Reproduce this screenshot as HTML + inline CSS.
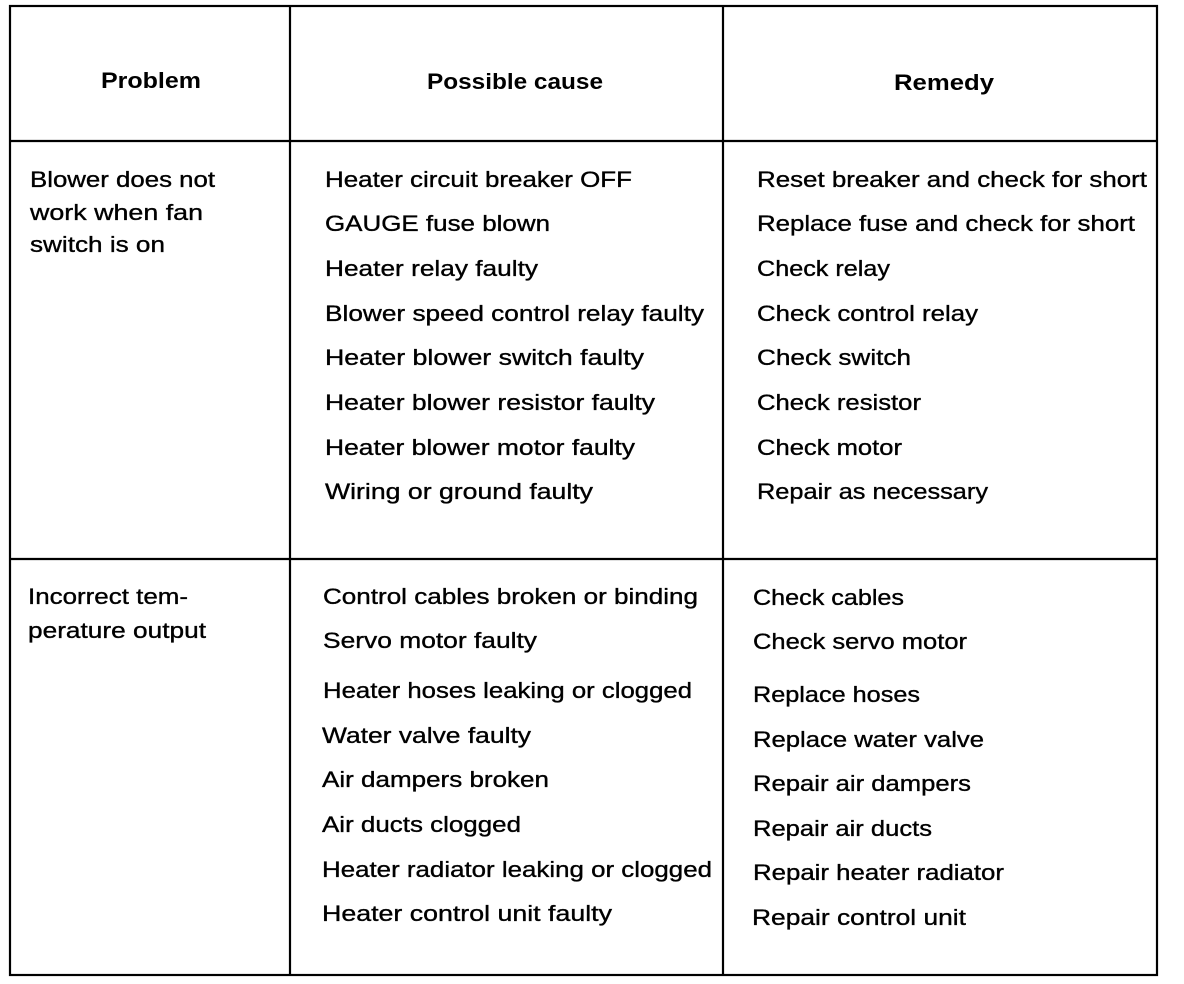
<!DOCTYPE html>
<html><head><meta charset="utf-8"><style>html,body{margin:0;padding:0;background:#fff}svg{display:block}</style></head><body>
<svg width="1184" height="984" xmlns="http://www.w3.org/2000/svg" font-family="Liberation Sans, sans-serif" font-size="22" fill="#000">
<g stroke="#000" stroke-width="2.2" fill="none">
<rect x="10" y="6" width="1147" height="969"/>
<line x1="290" y1="6" x2="290" y2="975"/>
<line x1="723" y1="6" x2="723" y2="975"/>
<line x1="10" y1="141" x2="1157" y2="141"/>
<line x1="10" y1="559" x2="1157" y2="559"/>
</g>
<g font-weight="bold">
<text x="101" y="88" textLength="100" lengthAdjust="spacingAndGlyphs">Problem</text>
<text x="427" y="89" textLength="176" lengthAdjust="spacingAndGlyphs">Possible cause</text>
<text x="894" y="90" textLength="100" lengthAdjust="spacingAndGlyphs">Remedy</text>
</g>
<g stroke="#000" stroke-width="0.35">
<text x="30" y="187" textLength="185" lengthAdjust="spacingAndGlyphs">Blower does not</text>
<text x="30" y="220" textLength="173" lengthAdjust="spacingAndGlyphs">work when fan</text>
<text x="30" y="252" textLength="135" lengthAdjust="spacingAndGlyphs">switch is on</text>
<text x="28" y="604" textLength="160" lengthAdjust="spacingAndGlyphs">Incorrect tem-</text>
<text x="28" y="638" textLength="178" lengthAdjust="spacingAndGlyphs">perature output</text>

<text x="325" y="187" textLength="307" lengthAdjust="spacingAndGlyphs">Heater circuit breaker OFF</text>
<text x="325" y="231" textLength="225" lengthAdjust="spacingAndGlyphs">GAUGE fuse blown</text>
<text x="325" y="276" textLength="213" lengthAdjust="spacingAndGlyphs">Heater relay faulty</text>
<text x="325" y="321" textLength="379" lengthAdjust="spacingAndGlyphs">Blower speed control relay faulty</text>
<text x="325" y="365" textLength="319" lengthAdjust="spacingAndGlyphs">Heater blower switch faulty</text>
<text x="325" y="410" textLength="330" lengthAdjust="spacingAndGlyphs">Heater blower resistor faulty</text>
<text x="325" y="455" textLength="310" lengthAdjust="spacingAndGlyphs">Heater blower motor faulty</text>
<text x="325" y="499" textLength="268" lengthAdjust="spacingAndGlyphs">Wiring or ground faulty</text>

<text x="757" y="187" textLength="390" lengthAdjust="spacingAndGlyphs">Reset breaker and check for short</text>
<text x="757" y="231" textLength="378" lengthAdjust="spacingAndGlyphs">Replace fuse and check for short</text>
<text x="757" y="276" textLength="133" lengthAdjust="spacingAndGlyphs">Check relay</text>
<text x="757" y="321" textLength="221" lengthAdjust="spacingAndGlyphs">Check control relay</text>
<text x="757" y="365" textLength="154" lengthAdjust="spacingAndGlyphs">Check switch</text>
<text x="757" y="410" textLength="164" lengthAdjust="spacingAndGlyphs">Check resistor</text>
<text x="757" y="455" textLength="145" lengthAdjust="spacingAndGlyphs">Check motor</text>
<text x="757" y="499" textLength="231" lengthAdjust="spacingAndGlyphs">Repair as necessary</text>

<text x="323" y="604" textLength="375" lengthAdjust="spacingAndGlyphs">Control cables broken or binding</text>
<text x="323" y="648" textLength="214" lengthAdjust="spacingAndGlyphs">Servo motor faulty</text>
<text x="323" y="698" textLength="369" lengthAdjust="spacingAndGlyphs">Heater hoses leaking or clogged</text>
<text x="322" y="743" textLength="209" lengthAdjust="spacingAndGlyphs">Water valve faulty</text>
<text x="322" y="787" textLength="227" lengthAdjust="spacingAndGlyphs">Air dampers broken</text>
<text x="322" y="832" textLength="199" lengthAdjust="spacingAndGlyphs">Air ducts clogged</text>
<text x="322" y="877" textLength="390" lengthAdjust="spacingAndGlyphs">Heater radiator leaking or clogged</text>
<text x="322" y="921" textLength="290" lengthAdjust="spacingAndGlyphs">Heater control unit faulty</text>

<text x="753" y="605" textLength="151" lengthAdjust="spacingAndGlyphs">Check cables</text>
<text x="753" y="649" textLength="214" lengthAdjust="spacingAndGlyphs">Check servo motor</text>
<text x="753" y="702" textLength="167" lengthAdjust="spacingAndGlyphs">Replace hoses</text>
<text x="753" y="747" textLength="231" lengthAdjust="spacingAndGlyphs">Replace water valve</text>
<text x="753" y="791" textLength="218" lengthAdjust="spacingAndGlyphs">Repair air dampers</text>
<text x="753" y="836" textLength="179" lengthAdjust="spacingAndGlyphs">Repair air ducts</text>
<text x="753" y="880" textLength="251" lengthAdjust="spacingAndGlyphs">Repair heater radiator</text>
<text x="752" y="925" textLength="214" lengthAdjust="spacingAndGlyphs">Repair control unit</text>
</g>
</svg>
</body></html>
